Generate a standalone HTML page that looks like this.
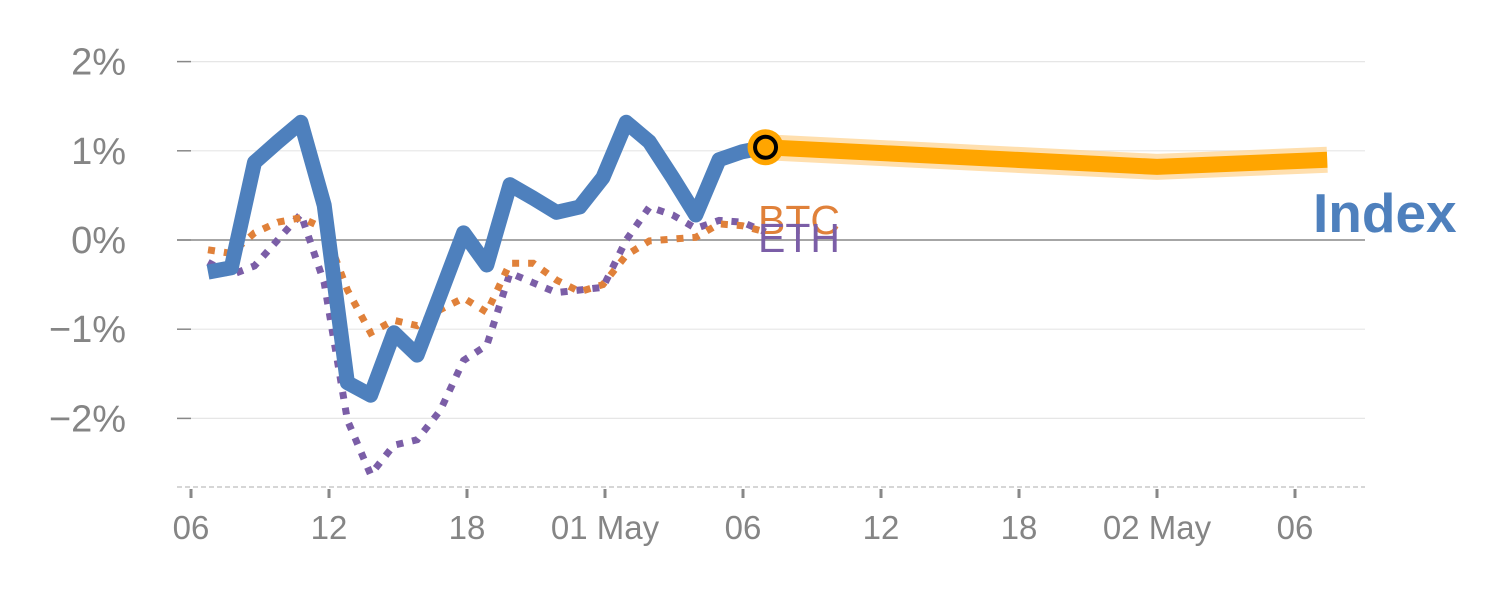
<!DOCTYPE html>
<html><head><meta charset="utf-8"><style>
html,body{margin:0;padding:0;background:#fff;}
svg{display:block;font-family:"Liberation Sans",Arial,sans-serif;}
</style></head><body>
<svg id="chart" width="1500" height="600" viewBox="0 0 1500 600" xmlns="http://www.w3.org/2000/svg">
<g id="grid"></g>
<g id="yaxis"></g>
<g id="xaxis"></g>
<g id="series"></g>
<g id="labels"></g>
</svg>
<script>
// ---- data ----
const yTicks = [2, 1, 0, -1, -2];
const yTickLabels = ["2%", "1%", "0%", "\u22121%", "\u22122%"];
const xTickHours = [0, 6, 12, 18, 24, 30, 36, 42, 48];
const xTickLabels = ["06", "12", "18", "01 May", "06", "12", "18", "02 May", "06"];
const indexValues = [-0.36,-0.31,0.87,1.10,1.32,0.39,-1.60,-1.74,-1.04,-1.29,-0.61,0.08,-0.28,0.62,0.47,0.31,0.37,0.70,1.32,1.10,0.70,0.28,0.90,0.99,1.04];
const btcValues = [-0.11,-0.15,0.08,0.20,0.25,0.13,-0.56,-1.04,-0.90,-0.96,-0.78,-0.65,-0.81,-0.26,-0.26,-0.45,-0.58,-0.50,-0.17,-0.01,0.01,0.03,0.18,0.16,0.09];
const ethValues = [-0.25,-0.39,-0.29,0.00,0.29,-0.48,-2.02,-2.63,-2.30,-2.24,-1.91,-1.35,-1.18,-0.37,-0.48,-0.59,-0.56,-0.53,0.00,0.37,0.28,0.13,0.22,0.20,0.09];
const forecastHours = [24.96, 42, 49.4];
const forecastValues = [1.04, 0.82, 0.90];
const startHour = 0.74;
const stepHour = 1.01;

// ---- scales ----
const NS = "http://www.w3.org/2000/svg";
function x(h){ return 191 + 23 * h; }
function y(v){ return 240 - 89.2 * v; }
function mk(tag, attrs, parent){
  const e = document.createElementNS(NS, tag);
  for (const k in attrs) e.setAttribute(k, attrs[k]);
  parent.appendChild(e);
  return e;
}
const grid = document.getElementById('grid');
const yaxis = document.getElementById('yaxis');
const xaxis = document.getElementById('xaxis');
const series = document.getElementById('series');
const labels = document.getElementById('labels');

yTicks.forEach((v, i) => {
  const g = mk('line', {x1:177, x2:1365, y1:y(v), y2:y(v), stroke: v===0 ? '#888' : '#e6e6e6', 'stroke-width': v===0 ? 1.5 : 1.2}, grid);
  
  
  const tk = mk('line', {x1:177, x2:191, y1:y(v), y2:y(v), stroke:'#888', 'stroke-width':1.5}, yaxis);
  
  
  const t = mk('text', {x:126, y:y(v)+13, 'text-anchor':'end', 'font-size':38, fill:'#858585'}, yaxis);
  t.textContent = yTickLabels[i];
  
  
});

const ax = mk('line', {x1:177, x2:1365, y1:487, y2:487, stroke:'#d6d6d6', 'stroke-width':2, 'stroke-dasharray':'5,3'}, xaxis);


xTickHours.forEach((h, i) => {
  const tk = mk('line', {x1:x(h), x2:x(h), y1:489, y2:498, stroke:'#888', 'stroke-width':3}, xaxis);
  
  
  const t = mk('text', {x:x(h), y:539, 'text-anchor':'middle', 'font-size':33, fill:'#858585'}, xaxis);
  t.textContent = xTickLabels[i];
  
  
});

function pts(vals){ return vals.map((v,i)=> x(startHour + i*stepHour).toFixed(1)+','+y(v).toFixed(1)).join(' '); }

const eth = mk('polyline', {points:pts(ethValues), fill:'none', stroke:'#7B5EA7', 'stroke-width':7, 'stroke-dasharray':'7,9'}, series);


const btc = mk('polyline', {points:pts(btcValues), fill:'none', stroke:'#E0813A', 'stroke-width':7, 'stroke-dasharray':'7,9'}, series);


const idx = mk('polyline', {points:pts(indexValues), fill:'none', stroke:'#4E80BD', 'stroke-width':15, 'stroke-linejoin':'round'}, series);



const fp = forecastHours.map((h,i)=> x(h).toFixed(1)+','+y(forecastValues[i]).toFixed(1)).join(' ');
const halo = mk('polyline', {points:fp, fill:'none', stroke:'#FFD79A', 'stroke-width':26, 'stroke-opacity':0.8}, series);


const fc = mk('polyline', {points:fp, fill:'none', stroke:'#FFA500', 'stroke-width':16}, series);



const lastH = startHour + (indexValues.length-1)*stepHour;
const lastV = indexValues[indexValues.length-1];
const m1 = mk('circle', {cx:x(lastH), cy:y(lastV), r:18, fill:'#FFA500'}, series);


const m2 = mk('circle', {cx:x(lastH), cy:y(lastV), r:10.5, fill:'#FFA500', stroke:'#000', 'stroke-width':4}, series);



const lb = mk('text', {x:758, y:y(btcValues[btcValues.length-1])+2, 'font-size':41, fill:'#E0813A'}, labels);
lb.textContent = 'BTC';


const le = mk('text', {x:758, y:y(ethValues[ethValues.length-1])+20, 'font-size':41, fill:'#7B5EA7'}, labels);
le.textContent = 'ETH';


const li = mk('text', {x:1313, y:232, 'font-size':55, 'font-weight':'bold', fill:'#4E80BD'}, labels);
li.textContent = 'Index';


</script>
</body></html>
